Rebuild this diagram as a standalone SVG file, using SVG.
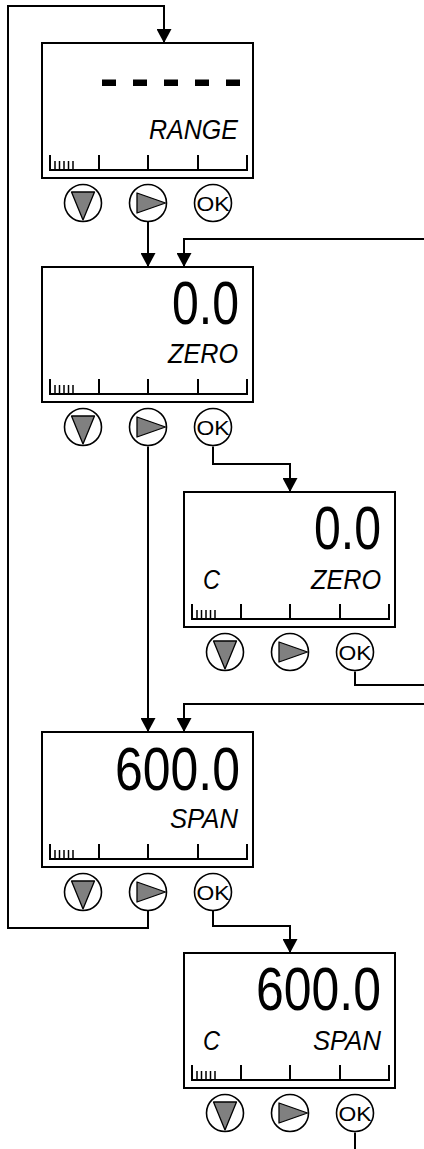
<svg xmlns="http://www.w3.org/2000/svg" xmlns:xlink="http://www.w3.org/1999/xlink" width="424" height="1149" viewBox="0 0 424 1149">
<style>
.box{fill:#fff;stroke:#000;stroke-width:2}
.scale{fill:none;stroke:#000;stroke-width:2}
.fine{fill:none;stroke:#000;stroke-width:1.5}
.btn{fill:#fff;stroke:#000;stroke-width:1.6}
.tri{fill:#808080;stroke:#000;stroke-width:1.3;stroke-linejoin:round}
.ok{font-family:"Liberation Sans",Arial,sans-serif;font-size:21px;fill:#000;text-anchor:middle}
.num{font-family:"Liberation Sans",Arial,sans-serif;font-size:61px;fill:#000;text-anchor:end}
.lbl{font-family:"Liberation Sans",Arial,sans-serif;font-size:27px;font-style:italic;fill:#000;text-anchor:end}
.lblc{font-family:"Liberation Sans",Arial,sans-serif;font-size:27px;font-style:italic;fill:#000}
.conn{fill:none;stroke:#000;stroke-width:2}
</style>
<defs>
<marker id="arr" markerUnits="userSpaceOnUse" markerWidth="15" markerHeight="15" viewBox="0 0 14 15" refX="14" refY="7.5" orient="auto">
<path d="M0,0 L14,7.5 L0,15 z" fill="#000"/>
</marker>
<g id="frame">
<rect class="box" x="0" y="0" width="211" height="135"/>
<path class="scale" d="M8,112 V127 H205 V112 M57,112 V127 M106,112 V127 M156,112 V127"/>
<path class="fine" d="M13,118 V127 M17.5,118 V127 M22,118 V127 M26.5,118 V127 M31,118 V127"/>
<circle class="btn" cx="41" cy="160" r="18.5"/>
<path class="tri" d="M29.5,149 L52.5,149 L41,177 z"/>
<circle class="btn" cx="106" cy="160" r="18.5"/>
<path class="tri" d="M95,150 L95,170 L123.5,160 z"/>
<circle class="btn" cx="171" cy="160" r="18.5"/>
<text class="ok" x="171" y="167.5" textLength="33" lengthAdjust="spacingAndGlyphs">OK</text>
</g>
</defs>
<g id="connectors">
<path class="conn" d="M148,910.5 V928 H8 V6 H164 V43" marker-end="url(#arr)"/>
<path class="conn" d="M148,221.5 V267" marker-end="url(#arr)"/>
<path class="conn" d="M424,239 H184 V267" marker-end="url(#arr)"/>
<path class="conn" d="M213,446.5 V464 H290 V492" marker-end="url(#arr)"/>
<path class="conn" d="M355,671.5 V685 H424"/>
<path class="conn" d="M148,446.5 V732" marker-end="url(#arr)"/>
<path class="conn" d="M424,704 H184 V732" marker-end="url(#arr)"/>
<path class="conn" d="M213,910.5 V926 H290 V953" marker-end="url(#arr)"/>
<path class="conn" d="M355,1132.5 V1149"/>
</g>
<g id="range">
<use xlink:href="#frame" x="42" y="43"/>
<g fill="#000">
<rect x="102" y="79.5" width="14" height="6.5"/>
<rect x="133" y="79.5" width="14" height="6.5"/>
<rect x="164" y="79.5" width="14" height="6.5"/>
<rect x="195" y="79.5" width="14" height="6.5"/>
<rect x="226" y="79.5" width="14" height="6.5"/>
</g>
<text class="lbl" x="238" y="138.5" textLength="89" lengthAdjust="spacingAndGlyphs">RANGE</text>
</g>
<g id="zero">
<use xlink:href="#frame" x="42" y="267"/>
<text class="num" x="239" y="324" textLength="67" lengthAdjust="spacingAndGlyphs">0.0</text>
<text class="lbl" x="238" y="363" textLength="70" lengthAdjust="spacingAndGlyphs">ZERO</text>
</g>
<g id="zero-c">
<use xlink:href="#frame" x="184" y="492"/>
<text class="num" x="381" y="549" textLength="67" lengthAdjust="spacingAndGlyphs">0.0</text>
<text class="lblc" x="203" y="589" textLength="17" lengthAdjust="spacingAndGlyphs">C</text>
<text class="lbl" x="381" y="589" textLength="70" lengthAdjust="spacingAndGlyphs">ZERO</text>
</g>
<g id="span">
<use xlink:href="#frame" x="42" y="732"/>
<text class="num" x="240" y="790" textLength="125" lengthAdjust="spacingAndGlyphs">600.0</text>
<text class="lbl" x="238" y="828" textLength="68" lengthAdjust="spacingAndGlyphs">SPAN</text>
</g>
<g id="span-c">
<use xlink:href="#frame" x="184" y="953"/>
<text class="num" x="381" y="1010" textLength="125" lengthAdjust="spacingAndGlyphs">600.0</text>
<text class="lblc" x="203" y="1050" textLength="17" lengthAdjust="spacingAndGlyphs">C</text>
<text class="lbl" x="381" y="1050" textLength="68" lengthAdjust="spacingAndGlyphs">SPAN</text>
</g>
</svg>
